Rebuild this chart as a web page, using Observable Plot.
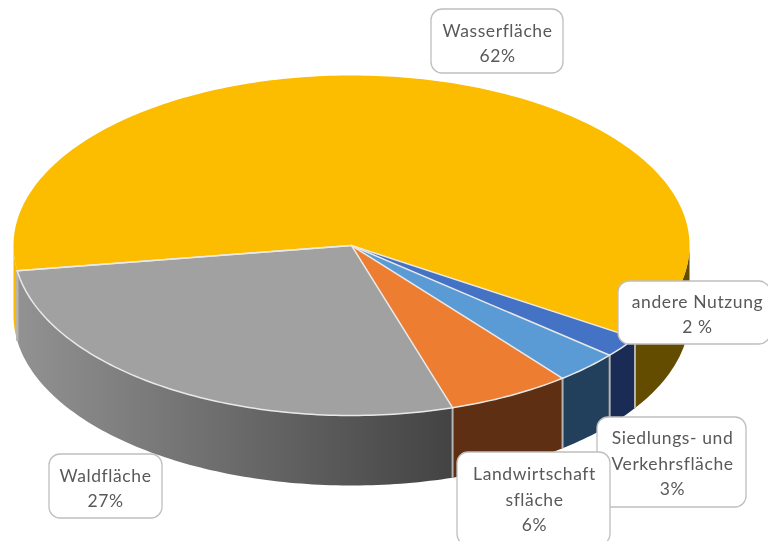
<!DOCTYPE html>
<html>
<head>
<meta charset="utf-8">
<script src="https://cdn.jsdelivr.net/npm/d3@7"></script>
<script src="https://cdn.jsdelivr.net/npm/@observablehq/plot@0.6"></script>
<style>html,body{margin:0;padding:0;background:#fff}svg{display:block;filter:blur(0.35px)}</style>
</head>
<body>
<div id="chart"></div>
<script>
// Data, clockwise from the start angle
const categories = ["andere Nutzung", "Siedlungs- und Verkehrsfläche", "Landwirtschaftsfläche", "Waldfläche", "Wasserfläche"];
const shares = [2.0, 3.1, 5.9, 27.45, 61.55];
const labelNames = ["andere Nutzung", "Siedlungs- und\nVerkehrsfläche", "Landwirtschaft\nsfläche", "Waldfläche", "Wasserfläche"];
const percentSuffix = [" %", "%", "%", "%", "%"];

// Styles
const topColors = ["#4472c4", "#5b9bd5", "#ed7d31", "#a1a1a1", "#fcbd00"];
const wallColors = ["#1a2c55", "#223f5b", "#5e2f12", "url(#wallGray)", "#634c00"];
const wallLeftYellow = "#f8b900";

// Layout of the pie (pixels of the picture)
const W = 768, H = 541;
const cx = 351, cy = 245, rx = 338, ry = 170, depth = 70, startAngle = 123;
// Label boxes [x1, y1, x2, y2] and text centres [x, y]
const labelBoxes = [
  [618, 281, 770, 344],
  [597, 417, 746, 507],
  [457, 452, 610, 545],
  [49, 454, 162, 518],
  [431, 9, 563, 73]
];
const labelCentres = [
  [697, 312],
  [672, 461],
  [534, 497],
  [105, 486],
  [497, 41]
];

const px = (t, drop = 0) => ({
  x: cx + rx * Math.sin(t * Math.PI / 180),
  y: cy - ry * Math.cos(t * Math.PI / 180) + drop
});
const arc = (a, b, drop = 0) => {
  const n = Math.max(2, Math.ceil(Math.abs(b - a)));
  return d3.range(n + 1).map(i => px(a + (b - a) * i / n, drop));
};

const total = d3.sum(shares);
let acc = startAngle;
const slices = categories.map((name, i) => {
  const a0 = acc;
  const a1 = acc + shares[i] / total * 360;
  acc = a1;
  return {name, a0, a1, i};
});

const x = "x", y = "y";
const marks = [];

// gradient definition for the grey wall
marks.push(() => {
  const defs = d3.create("svg:defs");
  const g = defs.append("linearGradient").attr("id", "wallGray");
  g.append("stop").attr("offset", "0%").attr("stop-color", "#929292");
  g.append("stop").attr("offset", "100%").attr("stop-color", "#434343");
  return defs.node();
});

// front walls: only the part of each slice between 90 and 270 degrees is visible
const wall = (a, b, fill) => Plot.line(
  [...arc(a, b), ...arc(b, a, depth), px(a)],
  {x, y, fill, stroke: "none"}
);
for (const s of slices) {
  const a = Math.max(s.a0, 90), b = Math.min(s.a1, 270);
  if (b > a) marks.push(wall(a, b, s.i === 4 ? wallLeftYellow : wallColors[s.i]));
}
// yellow wall on the right, up to the start angle
marks.push(wall(90, startAngle, wallColors[4]));

// separators between the walls
const seams = slices.map(s => s.a0).concat(slices[3].a1);
marks.push(Plot.link(seams.filter(a => a >= 90 && a <= 270), {
  x1: a => px(a).x, y1: a => px(a).y,
  x2: a => px(a, depth).x, y2: a => px(a, depth).y,
  stroke: "#b4b4b4", strokeWidth: 2
}));

// top surfaces
const centre = {x: cx, y: cy};
for (const s of slices) {
  marks.push(Plot.line([centre, ...arc(s.a0, s.a1), centre], {
    x, y, fill: topColors[s.i], stroke: "none"
  }));
}
// light edges: radial lines and the front rim, none on the back of the pie
const edge = {x, y, stroke: "#e9e9e9", strokeWidth: 1.5, strokeLinejoin: "round"};
for (const a of seams) marks.push(Plot.line([centre, px(a)], edge));
marks.push(Plot.line(arc(startAngle, slices[3].a1), edge));

// label boxes and texts
const labels = slices.map(s => ({
  box: labelBoxes[s.i],
  centre: labelCentres[s.i],
  text: labelNames[s.i] + "\n" + Math.round(shares[s.i]) + percentSuffix[s.i]
}));
marks.push(Plot.rect(labels, {
  x1: d => d.box[0], y1: d => d.box[1], x2: d => d.box[2], y2: d => d.box[3],
  rx: 11, fill: "white", stroke: "#bfbfbf", strokeWidth: 1.3
}));
marks.push(Plot.text(labels, {
  x: d => d.centre[0],
  y: d => d.centre[1],
  text: "text", fontSize: 17.5, lineHeight: 1.46, fill: "#595959",
  fontFamily: "Lato, 'Open Sans', sans-serif", textAnchor: "middle", lineAnchor: "middle"
}));

const chart = Plot.plot({
  width: W, height: H,
  margin: 0,
  style: {letterSpacing: "0.6px"},
  x: {domain: [0, W], range: [0, W], axis: null},
  y: {domain: [0, H], range: [0, H], axis: null},
  marks
});
document.getElementById("chart").append(chart);
</script>
</body>
</html>
